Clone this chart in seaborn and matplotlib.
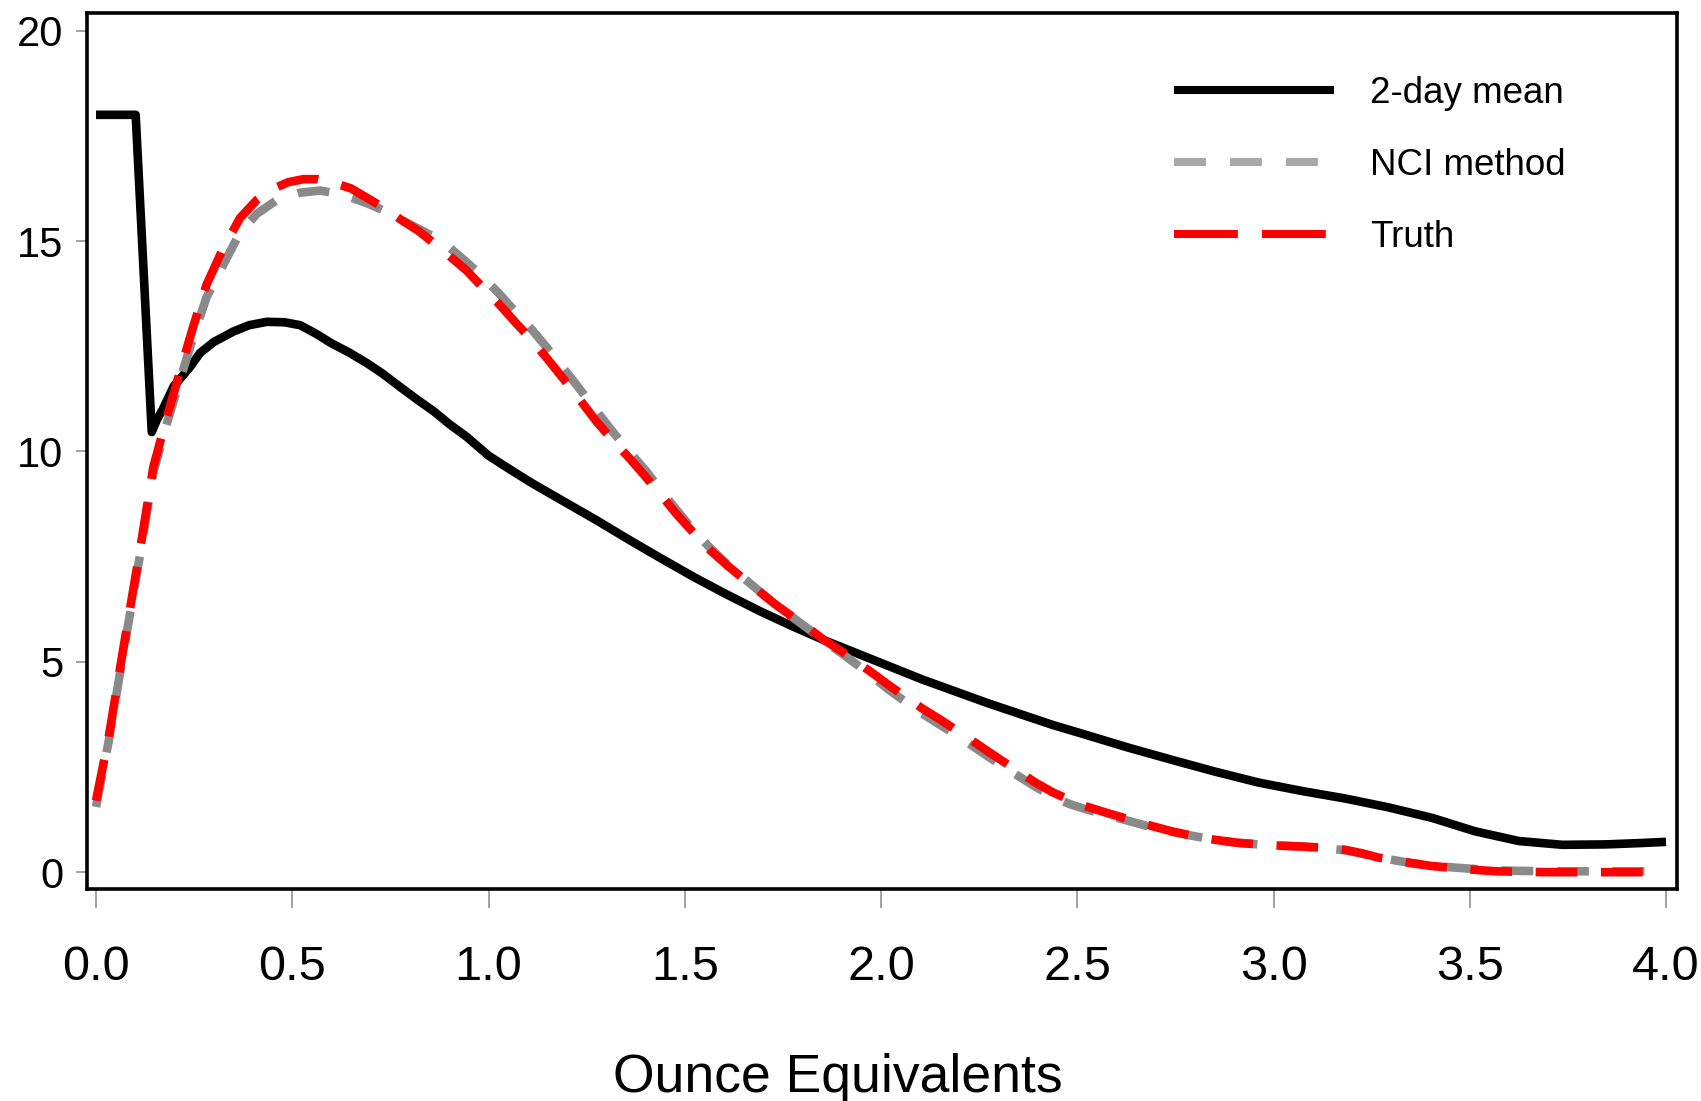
import numpy as np
import pandas as pd
import matplotlib
matplotlib.use("Agg")
import matplotlib.pyplot as plt
from matplotlib.lines import Line2D
import seaborn as sns

# ---- data ----
x_mean = [0.0, 0.05, 0.101, 0.142, 0.155, 0.170, 0.198, 0.239, 0.265, 0.30, 0.35,
          0.39, 0.435, 0.48, 0.52, 0.56, 0.60, 0.645, 0.69, 0.73, 0.775, 0.82,
          0.861, 0.90, 0.944, 1.0, 1.05, 1.11, 1.19, 1.276, 1.358, 1.441, 1.524,
          1.607, 1.69, 1.773, 1.856, 1.939, 2.022, 2.105, 2.188, 2.271, 2.354,
          2.437, 2.52, 2.63, 2.741, 2.851, 2.962, 3.072, 3.183, 3.293, 3.404,
          3.514, 3.625, 3.736, 3.846, 3.93, 4.0]
y_mean = [18.0, 18.0, 18.0, 10.46, 10.75, 11.0, 11.55, 12.0, 12.34, 12.6, 12.85,
          13.0, 13.08, 13.07, 13.0, 12.8, 12.57, 12.35, 12.1, 11.85, 11.53, 11.22,
          10.95, 10.65, 10.35, 9.9, 9.6, 9.25, 8.82, 8.36, 7.9, 7.45, 7.01,
          6.6, 6.21, 5.85, 5.51, 5.2, 4.89, 4.58, 4.30, 4.02, 3.76,
          3.5, 3.27, 2.96, 2.67, 2.39, 2.13, 1.93, 1.75, 1.54, 1.29,
          0.97, 0.74, 0.65, 0.66, 0.69, 0.72]

x_truth = [0.0, 0.032, 0.073, 0.115, 0.146, 0.18, 0.214, 0.247, 0.281, 0.32, 0.367,
           0.41, 0.446, 0.49, 0.528, 0.565, 0.60, 0.65, 0.695, 0.735, 0.778, 0.82,
           0.861, 0.90, 0.944, 0.985, 1.027, 1.07, 1.11, 1.15, 1.193, 1.235, 1.276,
           1.318, 1.358, 1.40, 1.441, 1.48, 1.524, 1.565, 1.607, 1.65, 1.69, 1.73,
           1.773, 1.815, 1.856, 1.90, 1.939, 1.98, 2.022, 2.065, 2.105, 2.147,
           2.188, 2.23, 2.271, 2.313, 2.354, 2.395, 2.437, 2.48, 2.52, 2.575, 2.63,
           2.685, 2.741, 2.795, 2.851, 2.906, 2.962, 3.017, 3.072, 3.13, 3.183,
           3.225, 3.266, 3.31, 3.349, 3.40, 3.46, 3.52, 3.57, 3.7, 4.0]
y_truth = [1.7, 3.19, 5.51, 7.83, 9.63, 10.8, 11.9, 12.95, 13.95, 14.75, 15.55,
           15.98, 16.22, 16.4, 16.47, 16.47, 16.4, 16.25, 16.0, 15.78, 15.5, 15.25,
           14.95, 14.65, 14.3, 13.9, 13.5, 13.05, 12.65, 12.2, 11.7, 11.2, 10.7,
           10.25, 9.85, 9.4, 8.95, 8.5, 8.05, 7.65, 7.3, 6.97, 6.67, 6.37,
           6.08, 5.8, 5.51, 5.25, 4.99, 4.72, 4.43, 4.15, 3.89, 3.65,
           3.40, 3.14, 2.88, 2.62, 2.37, 2.12, 1.9, 1.72, 1.57, 1.41, 1.26,
           1.11, 0.97, 0.86, 0.77, 0.70, 0.66, 0.63, 0.61, 0.58, 0.53,
           0.45, 0.35, 0.28, 0.22, 0.15, 0.10, 0.05, 0.02, 0.0, 0.0]

x_nci = [0.0, 0.032, 0.073, 0.115, 0.146, 0.18, 0.214, 0.247, 0.281, 0.308, 0.367,
         0.41, 0.46, 0.52, 0.571, 0.63, 0.69, 0.735, 0.778, 0.82, 0.861, 0.90,
         0.944, 0.985, 1.027, 1.07, 1.11, 1.15, 1.193, 1.235, 1.276, 1.318, 1.358,
         1.40, 1.441, 1.48, 1.524, 1.565, 1.607, 1.65, 1.69, 1.73, 1.773, 1.815,
         1.856, 1.90, 1.939, 1.98, 2.022, 2.065, 2.105, 2.147, 2.188, 2.23, 2.271,
         2.313, 2.354, 2.395, 2.437, 2.48, 2.52, 2.575, 2.63, 2.685, 2.741, 2.795,
         2.851, 2.906, 2.962, 3.017, 3.072, 3.13, 3.183, 3.225, 3.266, 3.31,
         3.349, 3.40, 3.46, 3.52, 3.57, 3.7, 4.0]
y_nci = [1.55, 3.1, 5.4, 7.7, 9.5, 10.65, 11.7, 12.7, 13.65, 14.15, 15.2,
         15.65, 15.97, 16.15, 16.2, 16.1, 15.9, 15.72, 15.5, 15.3, 15.1, 14.85,
         14.5, 14.15, 13.75, 13.3, 12.9, 12.45, 11.95, 11.45, 10.95, 10.45, 10.0,
         9.55, 9.05, 8.6, 8.1, 7.7, 7.33, 6.99, 6.68, 6.37, 6.07, 5.78,
         5.49, 5.2, 4.93, 4.63, 4.32, 4.03, 3.77, 3.52, 3.28, 3.02, 2.76,
         2.5, 2.26, 2.02, 1.8, 1.62, 1.5, 1.36, 1.22, 1.08, 0.96, 0.86,
         0.77, 0.70, 0.66, 0.63, 0.61, 0.57, 0.52, 0.44, 0.35, 0.28,
         0.22, 0.16, 0.11, 0.07, 0.04, 0.02, 0.02]

series_labels = ["2-day mean", "NCI method", "Truth"]
x_ticks = [0.0, 0.5, 1.0, 1.5, 2.0, 2.5, 3.0, 3.5, 4.0]
y_ticks = [0, 5, 10, 15, 20]
x_title = "Ounce Equivalents"

# ---- style ----
sns.set_style("white")
plt.rcParams["font.family"] = ["Liberation Sans", "DejaVu Sans"]
plt.rcParams["lines.scale_dashes"] = False
plt.rcParams["text.color"] = "black"

W, H = 1701, 1101
fig = plt.figure(figsize=(W / 100, H / 100), dpi=100)
ax = fig.add_axes([87 / W, 1 - 889 / H, (1677 - 87) / W, (889 - 13) / H])

lw = 6.2
df_mean = pd.DataFrame({"x": x_mean, "y": y_mean})
df_nci = pd.DataFrame({"x": x_nci, "y": y_nci})
df_truth = pd.DataFrame({"x": x_truth, "y": y_truth})

sns.lineplot(data=df_mean, x="x", y="y", ax=ax, color="black", linewidth=lw,
             sort=False, estimator=None, zorder=3)
sns.lineplot(data=df_nci, x="x", y="y", ax=ax, color="#8a8a8a", linewidth=lw,
             sort=False, estimator=None, linestyle=(0, (23, 17)), zorder=4)
sns.lineplot(data=df_truth, x="x", y="y", ax=ax, color="#ff0000", linewidth=lw,
             sort=False, estimator=None, linestyle=(0, (30, 17)), zorder=5)
for ln in ax.lines:
    ln.set_solid_capstyle("butt")
    ln.set_dash_capstyle("butt")
    ln.set_solid_joinstyle("round")
    ln.set_dash_joinstyle("round")

ax.set_xlim(-0.023, 4.028)
ax.set_ylim(-0.40, 20.42)
ax.set_xticks(x_ticks)
ax.set_xticklabels([f"{v:.1f}" for v in x_ticks])
ax.set_yticks(y_ticks)
ax.set_yticklabels([str(v) for v in y_ticks])
ax.set_xlabel("")
ax.set_ylabel("")

for s in ax.spines.values():
    s.set_visible(True)
    s.set_color("black")
    s.set_linewidth(2.6)

ax.tick_params(axis="x", which="major", direction="out", length=13.5, width=1.1,
               color="#888888", labelsize=35, pad=27, labelcolor="black", bottom=True)
ax.tick_params(axis="y", which="major", direction="out", length=8, width=1.1,
               color="#888888", labelsize=30, pad=9, labelcolor="black", left=True)

fig.text(838 / W, 1 - 1092 / H, x_title, fontsize=38.5, ha="center", va="baseline",
         color="black")

handles = [
    Line2D([], [], color="black", linewidth=5.8, solid_capstyle="butt"),
    Line2D([], [], color="#a8a8a8", linewidth=5.8, linestyle=(0, (23, 17.3)), dash_capstyle="butt"),
    Line2D([], [], color="#ff0000", linewidth=5.8, linestyle=(0, (46, 17.3)), dash_capstyle="butt"),
]
fs_leg = 26.5
leg = ax.legend(handles, series_labels, loc="upper left",
                bbox_to_anchor=(1174 / W, 1 - 76 / H), bbox_transform=fig.transFigure,
                frameon=False, fontsize=fs_leg, borderpad=0, borderaxespad=0,
                handlelength=160 / (fs_leg * 100 / 72), handletextpad=36 / (fs_leg * 100 / 72),
                labelspacing=1.0)
for t in leg.get_texts():
    t.set_color("black")

fig.savefig("out.png", dpi=100, facecolor="white")
